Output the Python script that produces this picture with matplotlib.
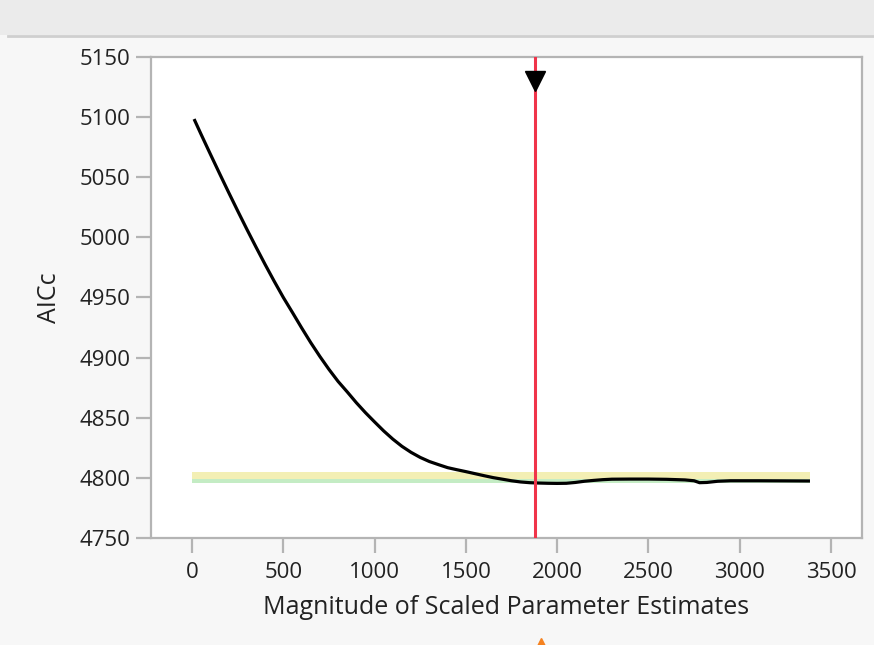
import matplotlib
matplotlib.use("Agg")
import matplotlib.pyplot as plt
from matplotlib.patches import Rectangle
from matplotlib.lines import Line2D

# AICc path over the magnitude of scaled parameter estimates
magnitude = [11, 50, 100, 150, 200, 250, 300, 350, 400, 450, 500, 550, 600,
             650, 700, 750, 800, 850, 900, 950, 1000, 1050, 1100, 1150, 1200,
             1250, 1300, 1350, 1400, 1450, 1500, 1550, 1600, 1650, 1700, 1750,
             1800, 1850, 1900, 1950, 2000, 2050, 2100, 2150, 2200, 2250, 2300,
             2400, 2500, 2600, 2700, 2750, 2780, 2820, 2880, 2950, 3100, 3250,
             3385]
aicc = [5098.4, 5085.5, 5069.3, 5053.3, 5037.5, 5022.0, 5006.8, 4992.0,
        4977.5, 4963.5, 4950.0, 4937.5, 4924.8, 4912.5, 4901.0, 4890.2,
        4880.2, 4871.5, 4862.5, 4854.2, 4846.5, 4839.0, 4832.2, 4826.2,
        4821.2, 4817.0, 4813.6, 4811.0, 4808.5, 4806.8, 4805.2, 4803.5,
        4801.8, 4800.2, 4798.9, 4797.6, 4796.6, 4796.0, 4795.7, 4795.5,
        4795.4, 4795.5, 4796.2, 4797.2, 4797.9, 4798.5, 4798.9, 4799.0,
        4799.0, 4798.8, 4798.3, 4797.6, 4796.0, 4796.2, 4797.2, 4797.6,
        4797.6, 4797.5, 4797.4]

best_magnitude = 1880
yellow_band = (4799.0, 4804.9)
green_band = (4795.7, 4799.0)

y_ticks = [4750, 4800, 4850, 4900, 4950, 5000, 5050, 5100, 5150]
x_ticks = [0, 500, 1000, 1500, 2000, 2500, 3000, 3500]

plt.rcParams['font.family'] = ['Open Sans', 'DejaVu Sans']

fig = plt.figure(figsize=(8.74, 6.45), dpi=100)
fig.patch.set_facecolor('#f7f7f7')

# header strip along the top
fig.patches.append(Rectangle((0, 1 - 35 / 645), 1, 35 / 645, transform=fig.transFigure,
                             facecolor='#ebebeb', edgecolor='none', zorder=0))
fig.lines.append(Line2D([8 / 874, 1], [1 - 36 / 645] * 2, transform=fig.transFigure,
                        color='#cfcfcf', lw=2))

ax = fig.add_axes([151 / 874, 1 - 538 / 645, (862 - 151) / 874, (538 - 57) / 645])
ax.set_facecolor('white')

x_end = magnitude[-1]
ax.fill_between([0, x_end], yellow_band[0], yellow_band[1], color='#f3efb4', lw=0, zorder=1)
ax.fill_between([0, x_end], green_band[0], green_band[1], color='#c4ecc4', lw=0, zorder=1)

ax.plot(magnitude, aicc, color='black', lw=2.3, solid_capstyle='butt',
        solid_joinstyle='round', zorder=3)

ax.axvline(best_magnitude, color='#f0344a', lw=2.2, zorder=4)
ax.plot(best_magnitude, 5130, marker='v', color='black', markersize=15, zorder=5)
ax.plot(best_magnitude + 30, -0.22, marker='^', color='#f58220', markersize=8,
        transform=ax.get_xaxis_transform(), clip_on=False, zorder=5)

ax.set_xlim(-225, 3670)
ax.set_ylim(4750, 5150)
ax.set_xticks(x_ticks)
ax.set_yticks(y_ticks)

for s in ax.spines.values():
    s.set_color('#b4b4b4')
    s.set_linewidth(1.6)

ax.tick_params(axis='both', direction='out', length=11, width=1.6, color='#b4b4b4',
               labelsize=16, labelcolor='#222222')
ax.tick_params(axis='y', pad=4)
ax.tick_params(axis='x', pad=6)

ax.set_xlabel('Magnitude of Scaled Parameter Estimates', fontsize=18, color='#222222', labelpad=9)
ax.set_ylabel('AICc', fontsize=18, color='#222222', labelpad=12)

fig.savefig('out.png', dpi=100, facecolor=fig.get_facecolor())
